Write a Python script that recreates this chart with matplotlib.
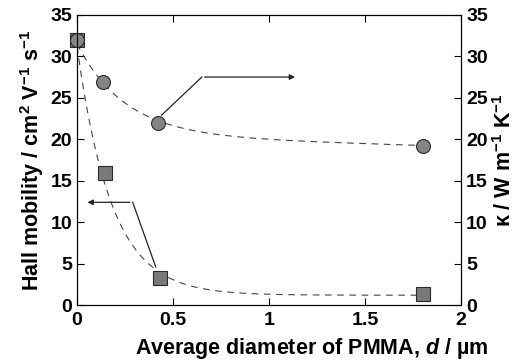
import matplotlib
matplotlib.use("Agg")
import matplotlib.pyplot as plt
import numpy as np

plt.rcParams['font.family'] = ['Liberation Sans', 'DejaVu Sans']
plt.rcParams['mathtext.fontset'] = 'custom'
plt.rcParams['mathtext.rm'] = 'Liberation Sans:bold'
plt.rcParams['mathtext.bf'] = 'Liberation Sans:bold'
plt.rcParams['mathtext.it'] = 'Liberation Sans:bold:italic'

d_mobility = [0.0, 0.145, 0.43, 1.8]
mobility = [32.0, 15.9, 3.3, 1.4]
d_kappa = [0.0, 0.135, 0.42, 1.8]
kappa = [32.0, 26.9, 22.0, 19.2]

# Guide-to-eye curves (hand-picked decay shapes)
d_fit = np.linspace(0.0, 1.8, 200)
mobility_fit = 1.2 + 30.0 * np.exp(-d_fit / 0.18)
kappa_fit = 20.5 + 11.0 * np.exp(-d_fit / 0.25) - 0.7 * d_fit

fig = plt.figure(figsize=(5.22, 3.62), dpi=100)
ax = fig.add_axes([0.1475, 0.157, 0.736, 0.802])
ax2 = ax.twinx()

dash = (0, (6, 5))
ax.plot(d_fit, mobility_fit, color='#444444', lw=0.8, linestyle=dash)
ax.plot(d_fit, kappa_fit, color='#444444', lw=0.8, linestyle=dash)

ax2.plot(d_kappa, kappa, 'o', ms=10, mfc='#858585', mec='#2a2a2a', mew=0.8, clip_on=False)
ax.plot(d_mobility, mobility, 's', ms=10, mfc='#7a7a7a', mec='#2a2a2a', mew=0.8, clip_on=False, zorder=5)

# arrows pointing to the relevant axes
ax.annotate('', xy=(1.15, 27.5), xytext=(0.65, 27.5),
            arrowprops=dict(arrowstyle='-|>', color='#222222', lw=0.9, mutation_scale=8))
ax.plot([0.44, 0.65], [22.9, 27.5], color='#222222', lw=0.9)
ax.annotate('', xy=(0.04, 12.4), xytext=(0.29, 12.4),
            arrowprops=dict(arrowstyle='-|>', color='#222222', lw=0.9, mutation_scale=8))
ax.plot([0.41, 0.29], [4.6, 12.4], color='#222222', lw=0.9)

for a in (ax, ax2):
    a.set_ylim(0, 35)
    a.set_yticks(np.arange(0, 36, 5))
    a.tick_params(direction='in', length=5, width=0.8, labelsize=14)
    for lab in a.get_yticklabels():
        lab.set_fontweight('bold')

ax.set_xlim(0, 2)
ax.set_xticks([0, 0.5, 1, 1.5, 2])
ax.set_xticklabels(['0', '0.5', '1', '1.5', '2'], fontweight='bold')
ax.tick_params(axis='x', top=True, pad=5)

ax.set_xlabel('Average diameter of PMMA, $d$ / µm', fontsize=15.5, fontweight='bold')
ax.xaxis.set_label_coords(0.61, -0.105)
ax.set_ylabel('Hall mobility / cm$^{2}$ V$^{-1}$ s$^{-1}$', fontsize=15.5, fontweight='bold', labelpad=3)
ax2.set_ylabel('κ / W m$^{-1}$ K$^{-1}$', fontsize=15.5, fontweight='bold', labelpad=4)

fig.savefig('out.png', dpi=100)
